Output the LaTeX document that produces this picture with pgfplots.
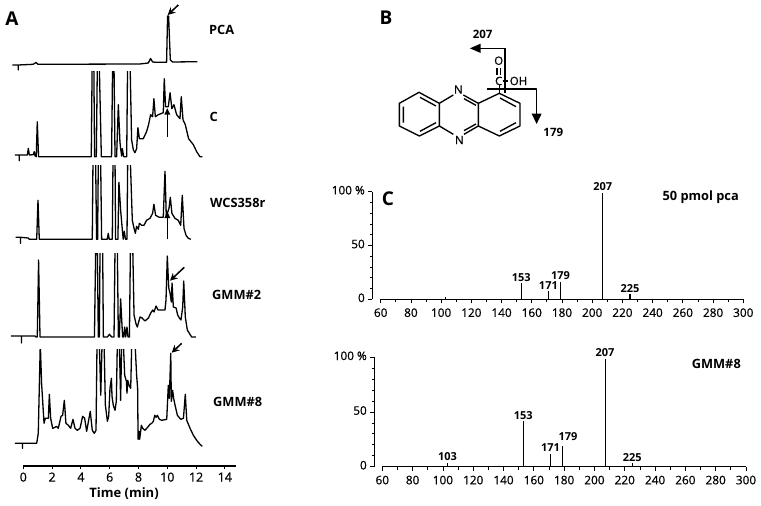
\documentclass[border=0pt]{standalone}
\usepackage{fontspec}
\setmainfont{Open Sans}
\newfontfamily\med[FakeBold=0.7]{Open Sans}
\usepackage{pgfplots}
\pgfplotsset{compat=1.18}
\usetikzlibrary{arrows.meta}
\tikzset{pk/.style={font=\fontsize{11}{11}\selectfont\bfseries, inner sep=0pt}}
\pgfplotsset{
  trace/.style={hide axis, scale only axis, anchor=south west, width=236.16pt,
    xmin=-1.6, xmax=14.8, ymin=-8, clip=true},
  tr/.style={black, line width=1.3pt, line join=round, no marks},
  spec/.style={scale only axis, anchor=south west, axis y line=none, axis x line=bottom,
    xmin=60, xmax=300, ymin=0, ymax=100, axis line style={-, line width=1.4pt},
    xtick={60,80,...,300}, minor x tick num=1, tick align=outside,
    major tick length=4pt, minor tick length=3pt,
    every tick/.style={black, line width=0.8pt},
    tick label style={font=\fontsize{11.8}{11.8}\selectfont\med},
    xticklabel style={yshift=-1.5pt},
    /pgf/number format/assume math mode=true, clip=false},
  specy/.style={scale only axis, anchor=south west, axis x line=none, axis y line=left,
    width=1pt, xmin=0, xmax=1, ymin=0, ymax=100, axis line style={-, line width=1pt},
    ytick={0,50,100}, yticklabels={0,50,100 \%}, minor y tick num=4, tick align=outside,
    major tick length=4pt, minor tick length=2pt,
    every tick/.style={black, line width=0.8pt},
    tick label style={font=\fontsize{11.8}{11.8}\selectfont\med, yshift=1.5pt},
    /pgf/number format/assume math mode=true},
  stem/.style={ycomb, black, line width=1.1pt, no marks},
}
\begin{document}
\begin{tikzpicture}[x=1pt,y=1pt]
\path[use as bounding box, fill=white] (0,0) rectangle (761,-506);

% PCA
\begin{axis}[trace, at={(0.26pt,-73pt)}, ymax=60, height=68pt]
\addplot[tr] coordinates {(-0.76,0)(-0.35,0)(-0.35,-5)(-0.35,0)(0.69,0.7)(0.88,2.5)(1.02,0.7)(8.10,1)(8.68,2)(8.84,6.5)(8.98,3)(9.26,2.7)(9.95,2.7)(10.02,49)(10.09,49)(10.21,5)(10.37,3)(12.08,3.3)};
\end{axis}
% C
\begin{axis}[trace, at={(0.26pt,-164.7pt)}, ymax=85, height=93pt]
\addplot[tr] coordinates {(-0.58,1.7)(-0.28,1.7)(-0.28,-4)(-0.28,1.7)(0.28,1.7)(0.35,8.3)(0.42,1.7)(0.69,2)(0.76,5)(0.81,1)(0.90,0)(0.97,35)(1.06,0)(4.72,0)(4.78,90)(4.90,90)(4.95,0)(5.07,0)(5.14,90)(5.28,90)(5.42,0)(6.13,0)(6.20,90)(6.30,90)(6.37,0)(6.48,0)(6.6,52)(6.71,15)(6.76,8)(6.83,0.7)(6.88,8)(6.97,0)(7.18,0)(7.24,90)(7.42,90)(7.52,17)(7.64,7)(7.75,4)(7.87,8)(7.96,29)(8.06,18)(8.33,18)(8.56,25)(8.7,32)(8.84,42)(8.98,40)(9.07,58)(9.17,40)(9.38,42)(9.72,44)(9.79,78)(9.88,50)(10.07,50)(10.19,64)(10.32,48)(10.46,52)(10.65,42)(10.88,38)(10.97,60)(11.09,37)(11.25,32)(11.48,18)(11.81,12)(12.04,5)(12.27,0)(12.43,0)};
\end{axis}
% WCS358r
\begin{axis}[trace, at={(0.26pt,-247.3pt)}, ymax=73.3, height=81.3pt]
\addplot[tr] coordinates {(-0.53,2)(-0.19,2)(-0.19,-4)(-0.19,2)(0.35,1.3)(0.42,0)(0.93,0)(1.02,39)(1.11,0)(4.79,0)(4.84,80)(5.02,80)(5.09,0)(5.16,0)(5.21,80)(5.37,80)(5.44,0)(5.83,0)(5.9,6)(5.97,0)(6.18,0)(6.23,80)(6.37,80)(6.41,0)(6.57,0)(6.64,57)(6.76,29)(6.88,9)(6.94,0)(7.01,8)(7.1,0)(7.2,0)(7.25,80)(7.43,80)(7.57,19)(7.69,11)(7.78,6)(7.87,13)(7.99,10)(8.06,16)(8.22,14)(8.38,14)(8.56,19)(8.8,21)(8.98,26)(9.07,35)(9.19,24)(9.44,22)(9.72,22)(9.84,68)(9.93,23)(10.12,31)(10.21,42)(10.32,26)(10.53,21)(10.76,19)(10.93,14)(11.04,44)(11.16,11)(11.3,4)(11.46,1)(11.64,0)};
\end{axis}
% GMM#2
\begin{axis}[trace, at={(0.26pt,-345pt)}, ymax=83, height=91pt]
\addplot[tr] coordinates {(-0.86,1)(-0.12,1)(-0.12,-6)(-0.12,1)(0.81,1)(0.88,0)(0.97,0)(1.02,40)(1.06,77)(1.11,40)(1.16,0)(4.94,0)(5.03,90)(5.14,90)(5.21,0)(5.28,0)(5.33,90)(5.51,90)(5.56,0)(5.84,0)(5.98,2.7)(6.14,0)(6.30,0)(6.37,90)(6.53,90)(6.6,0)(6.67,0)(6.76,38)(6.86,10)(6.9,0)(6.97,0)(7.04,10)(7.11,0)(7.2,10)(7.27,0)(7.37,0)(7.44,90)(7.6,90)(7.69,22)(7.83,13)(7.92,10)(8.01,15)(8.11,20)(8.25,19)(8.45,16)(8.69,19)(8.85,24)(8.99,27)(9.08,25)(9.22,31)(9.36,27)(9.84,27)(9.91,37)(10.0,81)(10.1,49)(10.19,44)(10.28,35)(10.33,54)(10.42,30)(10.61,29)(10.72,22)(10.84,19)(10.95,17)(11.07,30)(11.14,56)(11.25,20)(11.39,7)(11.69,0)(11.99,0)};
\end{axis}
% GMM#8
\begin{axis}[trace, at={(0.26pt,-451.3pt)}, ymax=94.3, height=102.3pt]
\addplot[tr] coordinates {(-0.58,0)(-0.05,0)(-0.05,-5)(-0.05,0)(0.93,0)(1.04,10)(1.18,100)(1.27,60)(1.44,20)(1.53,25)(1.74,25)(1.81,49)(1.9,25)(2.04,15)(2.2,16)(2.31,17)(2.43,15)(2.62,27)(2.73,28)(2.85,43)(2.96,20)(3.13,18)(3.29,15)(3.45,24)(3.59,15)(3.75,13)(3.94,15)(4.12,27)(4.26,25)(4.4,12)(4.65,32)(4.79,13)(4.93,10)(5.05,13)(5.12,100)(5.28,100)(5.38,48)(5.47,100)(5.61,100)(5.7,38)(5.84,22)(5.93,27)(6.02,55)(6.12,65)(6.16,47)(6.25,38)(6.37,33)(6.46,42)(6.53,100)(6.67,100)(6.76,43)(6.83,100)(6.95,100)(7.04,68)(7.16,62)(7.2,50)(7.25,63)(7.37,57)(7.46,55)(7.53,100)(7.76,100)(7.87,68)(7.94,55)(7.97,4)(8.04,12)(8.08,4)(8.2,18)(8.29,15)(8.45,13)(8.69,17)(8.8,19)(8.92,20)(9.03,22)(9.13,28)(9.22,26)(9.31,28)(9.45,24)(9.61,23)(9.96,24)(10.07,58)(10.14,45)(10.24,90)(10.28,42)(10.37,53)(10.44,45)(10.54,38)(10.7,28)(10.93,24)(11.12,25)(11.25,49)(11.35,23)(11.58,15)(11.81,8)(12.04,3)(12.27,-1)(12.43,-3)};
\end{axis}
% time axis
\begin{axis}[scale only axis, anchor=south west, at={(23.3pt,-466pt)}, width=213.1pt, height=1pt,
  axis y line=none, axis x line=bottom, xmin=0, xmax=14.8, ymin=0, ymax=1,
  axis line style={-, line width=1.1pt}, xtick={0,2,...,14}, tick align=outside,
  major tick length=3pt, every tick/.style={black, line width=0.9pt},
  tick label style={font=\fontsize{12.5}{12.5}\selectfont\med},
  /pgf/number format/assume math mode=true]
\end{axis}
\node[font=\fontsize{13}{13}\selectfont\bfseries, inner sep=0pt] at (124,-493.5) {Time (min)};

% spectra
\begin{axis}[spec, at={(380.7pt,-299.3pt)}, width=362.6pt, height=107.6pt]
\addplot[stem] coordinates {(103,2)(153,15)(171,8)(179,16.5)(207,99)(225,5)};
\node[pk] at (axis cs:207,105) {207};
\node[pk] at (axis cs:153,20.5) {153};
\node[pk] at (axis cs:171,13.2) {171};
\node[pk] at (axis cs:179,22) {179};
\node[pk] at (axis cs:225,10) {225};
\end{axis}
\begin{axis}[specy, at={(372.3pt,-299.3pt)}, height=107.6pt]
\end{axis}
\begin{axis}[spec, at={(382.3pt,-466.7pt)}, width=363.7pt, height=109.4pt]
\addplot[stem] coordinates {(103,3.7)(153,41.8)(171,12)(179,19)(207,98.5)(225,3)};
\node[pk] at (axis cs:207,104.5) {207};
\node[pk] at (axis cs:153,46.5) {153};
\node[pk] at (axis cs:171,17.5) {171};
\node[pk] at (axis cs:182.5,27.8) {179};
\node[pk] at (axis cs:225,8.8) {225};
\node[pk] at (axis cs:103,9.3) {103};
\end{axis}
\begin{axis}[specy, at={(374.3pt,-466.7pt)}, height=109.4pt]
\end{axis}

% panel letters and labels
\begin{scope}[every node/.style={inner sep=0pt}]
\node[font=\fontsize{19}{19}\selectfont\bfseries] at (12,-19) {A};
\node[font=\fontsize{19}{19}\selectfont\bfseries] at (386,-18) {B};
\node[font=\fontsize{19}{19}\selectfont\bfseries] at (388,-199) {C};
\foreach \x/\y/\t in {209/-30/PCA,209.5/-117/C,210/-203/WCS358r,212/-295/GMM\#2,213/-402/GMM\#8}
  \node[anchor=west, font=\fontsize{12.8}{12.8}\selectfont\bfseries] at (\x,\y) {\t};
\node[anchor=east, font=\fontsize{12.8}{12.8}\selectfont\bfseries] at (739,-197.5) {50 pmol pca};
\node[anchor=east, font=\fontsize{12.8}{12.8}\selectfont\bfseries] at (741,-364) {GMM\#8};
\end{scope}

% arrows in panel A
\begin{scope}[line width=1.5pt, >={Stealth[length=7.5pt,width=7.5pt]}]
\draw[->] (178.3,-5) -- (167.7,-15);
\draw[->] (184.3,-267.3) -- (170,-280.7);
\draw[->] (181.7,-343.3) -- (171.7,-352.7);
\end{scope}
\draw[line width=1.3pt] (167.3,-136.7) -- (167.3,-112);
\fill (167.3,-108.3) -- (164.3,-114.5) -- (170.3,-114.5) -- cycle;
\draw[line width=1.5pt] (167.3,-239.3) -- (167.3,-216);
\fill (167.3,-211.7) -- (164.3,-218) -- (170.3,-218) -- cycle;

% structure, panel B
\begin{scope}[shift={(370,0)}, x=0.3333pt, y=-0.3333pt, line width=1.35pt, line join=round]
\draw (88,310)--(147,277)--(208,310)--(208,378)--(148,408)--(88,378)--cycle;
\draw (208,310)--(250,285) (280,285)--(325,310)--(325,378)--(282,403) (250,403)--(208,378);
\draw (325,310)--(388,280)--(450,310)--(450,378)--(388,408)--(325,378);
\draw (100,320)--(100,368) (150,292)--(198,318) (150,394)--(198,368);
\draw (282,296)--(318,316) (282,392)--(318,372);
\draw (390,294)--(438,320) (390,394)--(438,368);
\draw (388,280)--(388,256);
\draw (381,205)--(381,226) (392,205)--(392,226);
\draw (398,243)--(414,243);
\draw (405,145)--(405,278);
\draw (330,145)--(405,145);
\fill (300,145)--(332,131)--(332,159)--cycle;
\draw (352,267)--(500,267)--(500,345);
\fill (500,372)--(485,341)--(515,341)--cycle;
\end{scope}
\begin{scope}[every node/.style={inner sep=0pt}, font=\fontsize{11.5}{11.5}\selectfont\bfseries]
\node at (482.7,-34.7) {207};
\node at (553.3,-132.3) {179};
\end{scope}
\begin{scope}[every node/.style={inner sep=0pt}, font=\fontsize{11.5}{11.5}\selectfont\med]
\node at (458.3,-89.5) {N};
\node at (459.3,-140) {N};
\node at (498.7,-60.7) {O};
\node at (498.7,-81) {C};
\node at (518.5,-81) {OH};
\end{scope}
\end{tikzpicture}
\end{document}
